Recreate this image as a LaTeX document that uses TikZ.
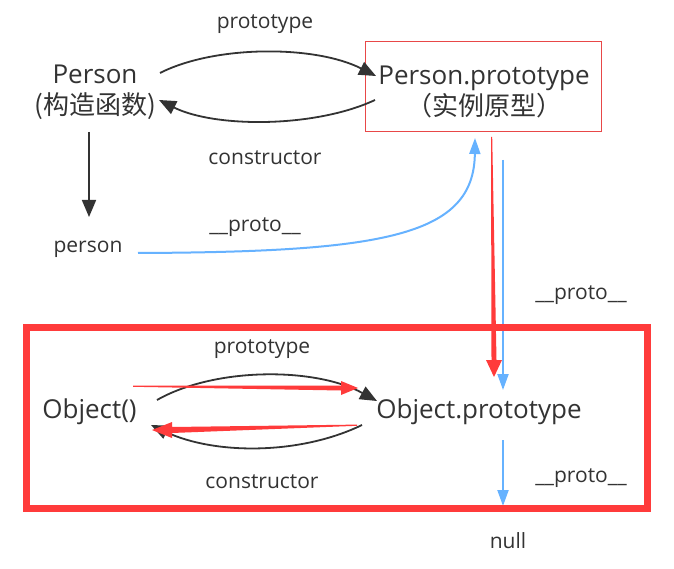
\documentclass[tikz,border=0pt]{standalone}
\usepackage{fontspec}
\setmainfont{Open Sans}
\newfontfamily\cjk{Noto Sans CJK SC}
\usetikzlibrary{arrows.meta}
\definecolor{ink}{HTML}{333333}
\definecolor{blu}{HTML}{66B2FF}
\definecolor{rd}{HTML}{FF3B3B}
\definecolor{boxred}{HTML}{E84848}
\begin{document}
\begin{tikzpicture}[x=1pt,y=-1pt,
  big/.style={font=\fontsize{26}{31}\selectfont, text=ink, inner sep=0pt, align=center},
  lbl/.style={font=\fontsize{21}{24}\selectfont, text=ink, inner sep=0pt},
  blk/.style={draw=ink, line width=1.8pt, -{Triangle[length=17pt,width=14pt]}},
  blue/.style={draw=blu, line width=2pt, -{Triangle[length=16pt,width=11pt]}},
  redwedge/.style={fill=rd, draw=none},
  framebox/.style={draw=boxred, line width=1pt, minimum width=235.5pt, minimum height=90pt, inner sep=0pt}]
\useasboundingbox (0,0) rectangle (674,569);
\fill[white] (0,0) rectangle (674,569);

% nodes
\node[big] (ctor) at (95,92.5) {Person\\{\cjk (构造函数)}};
\node[framebox] (pp) at (483.25,86.5) {};
\node[big] (pptxt) at (484,92) {Person.prototype\\{\cjk （实例原型）}};
\node[lbl] (inst) at (88,249) {person};
\node[big] (obj) at (89.5,412) {Object()};
\node[big] (objp) at (479,412) {Object.prototype};
\node[lbl] (nul) at (508,541) {null};

% labels
\node[lbl] (l1) at (265,24.5) {prototype};
\node[lbl] (l2) at (265,158) {constructor};
\node[lbl] (l3) at (255,227) {\_\_proto\_\_};
\node[lbl] (l4) at (581,295) {\_\_proto\_\_};
\node[lbl] (l5) at (262,349.5) {prototype};
\node[lbl] (l6) at (262,482) {constructor};
\node[lbl] (l7) at (581,478.5) {\_\_proto\_\_};

% connector end points
\coordinate (a1) at (160,73);  \coordinate (a2) at (376,76);
\coordinate (b1) at (375,100); \coordinate (b2) at (159,100);
\coordinate (c1) at (89,132);  \coordinate (c2) at (89,217);
\coordinate (d1) at (138,253); \coordinate (d2) at (475,138);
\coordinate (e1) at (503,160); \coordinate (e2) at (503,390);
\coordinate (f1) at (157,400); \coordinate (f2) at (377,401);
\coordinate (g1) at (362,425); \coordinate (g2) at (151,425);
\coordinate (h1) at (503,440); \coordinate (h2) at (503,506);

% black connectors
\draw[blk] (a1) .. controls (215,45) and (315,45) .. (a2);
\draw[blk] (b1) .. controls (315,128) and (215,128) .. (b2);
\draw[blk] (c1) -- (c2);
\draw[blk] (f1) .. controls (215,367) and (315,367) .. (f2);
\draw[blk] (g1) .. controls (300,455) and (215,455) .. (g2);

% blue connectors
\draw[blue] (d1) .. controls (385,252) and (474,236) .. (d2);
\draw[blue] (e1) -- (e2);
\draw[blue] (h1) -- (h2);

% big red frame
\draw[rd, line width=7pt] (26.5,327.5) rectangle (647.5,508);

% red wedge arrows
\fill[redwedge] (491,137) -- (492.2,137) -- (496.5,360) -- (502,360) -- (494,377)
  -- (486,360) -- (491.5,360) -- cycle;
\fill[redwedge] (133,385.6) -- (341,385.5) -- (341,381) -- (358,388) -- (341,395)
  -- (341,390.5) -- (133,386.8) -- cycle;
\fill[redwedge] (357,424.6) -- (172,427) -- (172,422) -- (152,430) -- (172,438)
  -- (172,433) -- (357,425.8) -- cycle;
\end{tikzpicture}
\end{document}
